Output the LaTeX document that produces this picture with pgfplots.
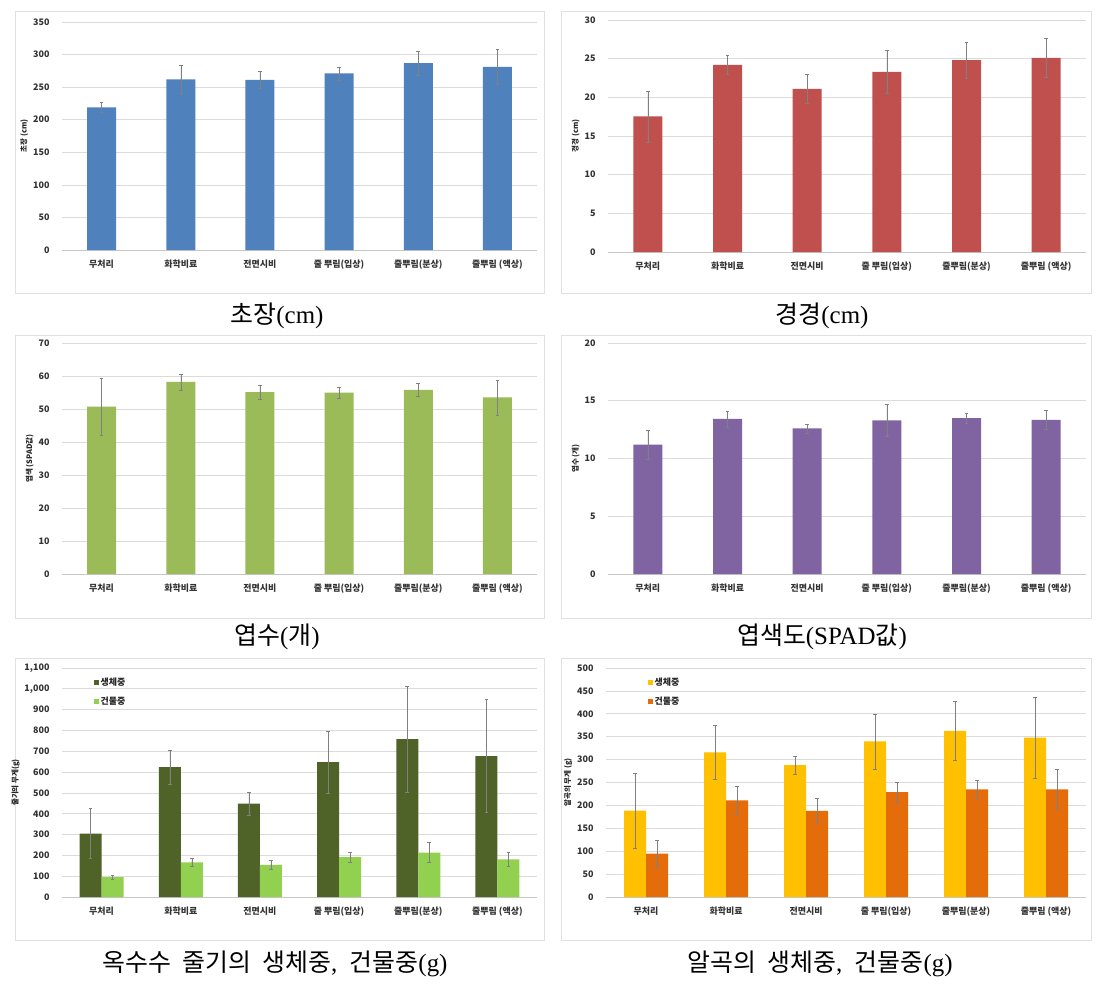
\documentclass[border=0pt]{standalone}
\usepackage{fontspec}
\setmainfont{Liberation Serif}
\newfontfamily\kr{Noto Sans CJK KR}
\usepackage{pgfplots}
\pgfplotsset{compat=1.18}
\definecolor{cblue}{HTML}{4F81BD}
\definecolor{cred}{HTML}{C0504D}
\definecolor{cgreen}{HTML}{9BBB59}
\definecolor{cpurple}{HTML}{8064A2}
\definecolor{cdkgreen}{HTML}{4F6228}
\definecolor{cltgreen}{HTML}{92D050}
\definecolor{cgold}{HTML}{FFC000}
\definecolor{corange}{HTML}{E46C0A}
\newcommand{\capfont}{\fontsize{25}{28}\selectfont}
\pgfplotsset{
  panel/.style={
    scale only axis, xmin=-0.5, xmax=5.5, ymin=0,
    xtick={0,...,5},
    xticklabels={무처리,화학비료,전면시비,줄 뿌림(입상),줄뿌림(분상),줄뿌림 (액상)},
    ymajorgrids, grid style={draw=black!14, line width=0.7bp},
    axis x line*=bottom, axis y line*=left,
    y axis line style={draw=none}, x axis line style={draw=black!22, line width=0.7bp},
    major tick length=0pt,
    /pgf/number format/assume math mode=true,
    tick label style={font=\kr\bfseries\fontsize{9}{10}\selectfont, text=black!80},
    xticklabel style={yshift=-6bp},
    yticklabel style={xshift=-9bp},
    ylabel style={font=\kr\bfseries\fontsize{7.5}{8}\selectfont, text=black!85, yshift=-2bp},
    ybar, bar width=29bp,
    error bars/y dir=both, error bars/y explicit,
    error bars/error bar style={black!50, line width=0.5bp},
    error bars/error mark options={black!50, mark size=1.8bp, line width=0.5bp, rotate=90},
    clip=false,
  },
  twobar/.style={
    ybar=0pt, bar width=22bp,
    legend style={draw=none, fill=none, font=\kr\bfseries\fontsize{9}{10}\selectfont, text=black!85,
      row sep=6bp, legend cell align=left},
    legend image code/.code={\fill[##1, draw=none] (0bp,-2.5bp) rectangle (5bp,2.5bp);},
  },
}
\begin{document}
\begin{tikzpicture}[x=1bp,y=-1bp]
\path[fill=white, use as bounding box] (0,0) rectangle (1105,986);
% panel frames
\foreach \y/\h in {11/293,335/618,658/940}{
  \draw[black!12, line width=0.8bp] (15,\y) rectangle (544,\h);
  \draw[black!12, line width=0.8bp] (561,\y) rectangle (1091,\h);
}
% ---------- Panel 1 ----------
\begin{axis}[panel, at={(62bp,-250bp)}, anchor=south west, width=475bp, height=228bp,
  ymax=350, ytick distance=50, ylabel={초장 (cm)}]
\addplot[fill=cblue, draw=none] coordinates {
 (0,219) +- (0,8)
 (1,262) +- (0,22)
 (2,261) +- (0,13)
 (3,271) +- (0,10)
 (4,287) +- (0,18)
 (5,281) +- (0,27)};
\end{axis}
% ---------- Panel 2 ----------
\begin{axis}[panel, at={(608bp,-252bp)}, anchor=south west, width=478bp, height=232bp,
  ymax=30, ytick distance=5, ylabel={경경 (cm)}]
\addplot[fill=cred, draw=none] coordinates {
 (0,17.55) +- (0,3.3)
 (1,24.2) +- (0,1.2)
 (2,21.1) +- (0,1.9)
 (3,23.3) +- (0,2.75)
 (4,24.8) +- (0,2.3)
 (5,25.1) +- (0,2.5)};
\end{axis}
% ---------- Panel 3 ----------
\begin{axis}[panel, at={(62bp,-574bp)}, anchor=south west, width=475bp, height=231bp,
  ymax=70, ytick distance=10, ylabel={엽색 (SPAD값)}]
\addplot[fill=cgreen, draw=none] coordinates {
 (0,50.7) +- (0,8.5)
 (1,58.2) +- (0,2.4)
 (2,55.1) +- (0,2.0)
 (3,55.0) +- (0,1.7)
 (4,55.8) +- (0,1.9)
 (5,53.5) +- (0,5.3)};
\end{axis}
% ---------- Panel 4 ----------
\begin{axis}[panel, at={(608bp,-574bp)}, anchor=south west, width=478bp, height=231bp,
  ymax=20, ytick distance=5, ylabel={엽수 (개)}]
\addplot[fill=cpurple, draw=none] coordinates {
 (0,11.2) +- (0,1.25)
 (1,13.43) +- (0,0.7)
 (2,12.6) +- (0,0.4)
 (3,13.3) +- (0,1.4)
 (4,13.5) +- (0,0.45)
 (5,13.35) +- (0,0.8)};
\end{axis}
% ---------- Panel 5 ----------
\begin{axis}[panel, twobar, at={(62bp,-897bp)}, anchor=south west, width=475bp, height=229bp,
  ymax=1100, ytick distance=100, ylabel={줄기의 무게(g)},
  legend style={at={(0.06,0.975)}, anchor=north west}]
\addplot[fill=cdkgreen, draw=none] coordinates {
 (0,305) +- (0,120)
 (1,624) +- (0,80)
 (2,449) +- (0,55)
 (3,648) +- (0,149)
 (4,758) +- (0,256)
 (5,677) +- (0,271)};
\addplot[fill=cltgreen, draw=none] coordinates {
 (0,96) +- (0,10)
 (1,167) +- (0,17)
 (2,154) +- (0,22)
 (3,192) +- (0,24)
 (4,213) +- (0,48)
 (5,181) +- (0,35)};
\legend{생체중,건물중}
\end{axis}
% ---------- Panel 6 ----------
\begin{axis}[panel, twobar, at={(606bp,-897bp)}, anchor=south west, width=480bp, height=229bp,
  ymax=500, ytick distance=50, ylabel={알곡의 무게 (g)},
  legend style={at={(0.08,0.975)}, anchor=north west}]
\addplot[fill=cgold, draw=none] coordinates {
 (0,188.5) +- (0,82)
 (1,316) +- (0,58)
 (2,288) +- (0,20)
 (3,340) +- (0,60)
 (4,363) +- (0,64)
 (5,348) +- (0,88)};
\addplot[fill=corange, draw=none] coordinates {
 (0,95) +- (0,30)
 (1,211) +- (0,30)
 (2,188) +- (0,27)
 (3,229) +- (0,22)
 (4,235) +- (0,19)
 (5,235) +- (0,44)};
\legend{생체중,건물중}
\end{axis}
% captions
\node[font=\capfont] at (277,316) {{\kr 초장}(cm)};
\node[font=\capfont] at (822,316) {{\kr 경경}(cm)};
\node[font=\capfont] at (277,637) {{\kr 엽수}({\kr 개})};
\node[font=\capfont] at (822,637) {{\kr 엽색도}(SPAD{\kr 값})};
\node[font=\capfont] at (275,964) {{\kr 옥수수\ \ 줄기의\ \ 생체중},\ \ {\kr 건물중}(g)};
\node[font=\capfont] at (820,964) {{\kr 알곡의\ \ 생체중},\ \ {\kr 건물중}(g)};
\end{tikzpicture}
\end{document}
